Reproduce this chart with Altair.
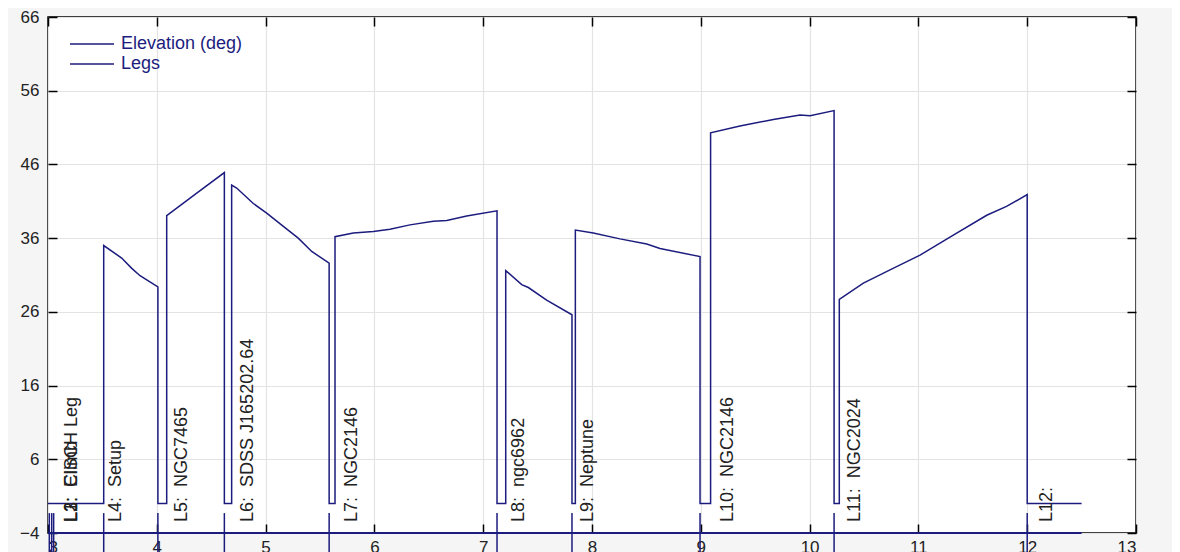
import altair as alt
import pandas as pd

NAVY = "#1c1c7e"
FONT = "Liberation Sans"
W, H = 1088, 516
SP = "\u00a0\u00a0"

# ---- data ----
elev_x = [3.0, 3.512,
          3.512, 3.677, 3.77, 3.846, 4.01, 4.01,
          4.091, 4.091, 4.367, 4.621, 4.621,
          4.688, 4.688, 4.734, 4.887, 5.01, 5.163, 5.30, 5.424, 5.584, 5.584,
          5.638, 5.638, 5.806, 5.99, 6.143, 6.327, 6.541, 6.665, 6.848, 7.127, 7.127,
          7.207, 7.207, 7.354, 7.415, 7.583, 7.816, 7.816,
          7.847, 7.847, 8.012, 8.257, 8.503, 8.625, 8.993, 8.993,
          9.09, 9.09, 9.36, 9.667, 9.912, 10.004, 10.225, 10.225,
          10.273, 10.273, 10.494, 10.739, 11.015, 11.321, 11.628, 11.81, 12.0, 12.0,
          12.5]
elev_y = [0, 0,
          35.0, 33.3, 31.9, 30.9, 29.4, 0,
          0, 39.05, 42.1, 44.9, 0,
          0, 43.2, 42.8, 40.7, 39.4, 37.6, 36.0, 34.2, 32.6, 0,
          0, 36.2, 36.7, 36.9, 37.2, 37.8, 38.3, 38.4, 39.0, 39.7, 0,
          0, 31.6, 29.7, 29.3, 27.6, 25.6, 0,
          0, 37.1, 36.7, 35.9, 35.2, 34.6, 33.5, 0,
          0, 50.3, 51.2, 52.1, 52.7, 52.6, 53.3, 0,
          0, 27.7, 29.9, 31.7, 33.7, 36.4, 39.1, 40.3, 41.9, 0,
          0]

leg_ids = ["L1:", "L2:", "L3:", "L4:", "L5:", "L6:", "L7:", "L8:", "L9:",
           "L10:", "L11:", "L12:"]
leg_targets = ["", "EISCH Leg", "Climb", "Setup", "NGC7465", "SDSS J165202.64",
               "NGC2146", "ngc6962", "Neptune", "NGC2146", "NGC2024", ""]
leg_start = [3.012, 3.034, 3.052, 3.512, 4.01, 4.621, 5.584, 7.127, 7.816,
             8.993, 10.225, 12.0]
label_x = [3.267, 3.267, 3.267, 3.671, 4.275, 4.881, 5.840, 7.375, 8.009,
           9.296, 10.463, 12.225]
label_base = -2.5
legs_top = -1.3
legs_bottom = -9.0
legs_base = -4.0
legs_end = 12.5

x_ticks = [3, 4, 5, 6, 7, 8, 9, 10, 11, 12, 13]
y_ticks = [-4, 6, 16, 26, 36, 46, 56, 66]
series = ["Elevation (deg)", "Legs"]

# ---- chart ----
xs = alt.Scale(domain=[3, 13], nice=False, zero=False)
ys = alt.Scale(domain=[-4, 66], nice=False, zero=False)
cs = alt.Scale(domain=series, range=[NAVY, NAVY])

legend = alt.Legend(orient="none", legendX=33, legendY=16, title=None,
                    symbolType="M-2.2,0H2.2", symbolSize=400, symbolStrokeWidth=1.5,
                    labelColor=NAVY, labelFontSize=18, labelFont=FONT,
                    rowPadding=0, labelOffset=18, padding=0)


def tick_axis(orient, offset):
    return alt.Axis(orient=orient, offset=offset,
                    values=x_ticks if orient in ("top", "bottom") else y_ticks,
                    labels=False, grid=False, domain=False, ticks=True, tickSize=9,
                    tickColor="black", tickWidth=1.5, title=None)


df_e = pd.DataFrame({"x": elev_x, "y": elev_y, "i": list(range(len(elev_x))), "s": series[0]})
line = alt.Chart(df_e).mark_line(strokeWidth=1.5).encode(
    x=alt.X("x:Q", scale=xs, axis=alt.Axis(values=x_ticks, grid=True, ticks=False, tickSize=0,
                                           domain=False, title=None, labelPadding=6,
                                           labelFontSize=17, labelFont=FONT, labelColor="#222",
                                           gridColor="#e3e3e3", gridWidth=1.2)),
    y=alt.Y("y:Q", scale=ys, axis=alt.Axis(values=y_ticks, grid=True, ticks=False, tickSize=0,
                                           domain=False, title=None, labelPadding=9,
                                           labelFontSize=17, labelFont=FONT, labelColor="#222",
                                           gridColor="#e3e3e3", gridWidth=1.2)),
    order="i:Q",
    color=alt.Color("s:N", scale=cs, legend=legend),
)

df_l = pd.DataFrame({"x": leg_start, "top": [legs_top] * len(leg_start),
                     "bot": [legs_bottom] * len(leg_start), "s": series[1]})
rules = alt.Chart(df_l).mark_rule(strokeWidth=1.5).encode(
    x=alt.X("x:Q", scale=xs, axis=tick_axis("top", -H)),
    y=alt.Y("top:Q", scale=ys, axis=tick_axis("right", -W)),
    y2="bot:Q",
    color=alt.Color("s:N", scale=cs, legend=legend),
)

df_b = pd.DataFrame({"x": [3.0], "x2": [legs_end], "y": [legs_base], "s": [series[1]]})
base = alt.Chart(df_b).mark_rule(strokeWidth=2).encode(
    x=alt.X("x:Q", scale=xs, axis=tick_axis("bottom", -H)),
    x2="x2:Q",
    y=alt.Y("y:Q", scale=ys, axis=tick_axis("left", -W)),
    color=alt.Color("s:N", scale=cs, legend=legend),
)

labels = [i + SP + t if t else i for i, t in zip(leg_ids, leg_targets)]
df_t = pd.DataFrame({"x": label_x, "y": [label_base] * len(label_x), "t": labels})
text = alt.Chart(df_t).mark_text(angle=270, align="left", baseline="alphabetic",
                                 fontSize=18, font=FONT, color="#222").encode(
    x=alt.X("x:Q", scale=xs, axis=None),
    y=alt.Y("y:Q", scale=ys, axis=None),
    text="t:N",
)

chart = alt.layer(line, rules, base, text).resolve_axis(
    x="independent", y="independent"
).properties(
    width=W, height=H,
    autosize=alt.AutoSizeParams(type="none"),
    padding={"left": 40, "top": 9, "right": 36, "bottom": 22},
    background="#f5f5f5",
).configure_view(fill="white", stroke="black", strokeWidth=1.5)

chart.save("out.html", embed_options={"renderer": "svg", "actions": False})
